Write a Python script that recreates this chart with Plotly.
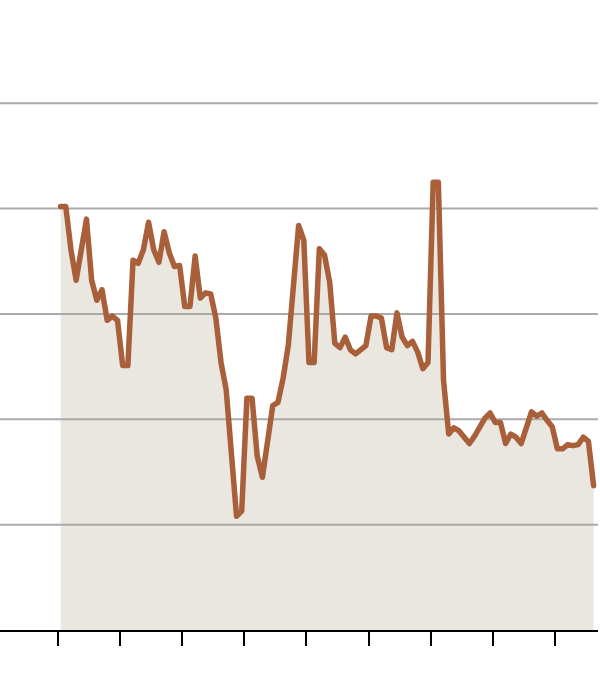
import plotly.graph_objects as go

# Monthly index (mid-month positions) and values
months = [k + 0.5 for k in range(104)]
values = [
    40.2, 40.2, 36.1, 33.2, 36.1, 39.0, 33.2, 31.3, 32.3, 29.4, 29.8, 29.4,
    25.1, 25.1, 35.1, 34.8, 36.1, 38.7, 36.1, 34.9, 37.8, 35.8, 34.5, 34.6,
    30.7, 30.7, 35.5, 31.5, 32.0, 31.9, 29.6, 25.4, 22.8, 16.6, 10.8, 11.3,
    22.0, 22.0, 16.5, 14.5, 18.0, 21.3, 21.6, 23.9, 27.0, 32.3, 38.4, 37.0,
    25.4, 25.4, 36.2, 35.6, 33.0, 27.2, 26.8, 27.8, 26.6, 26.2, 26.6, 27.0,
    29.8, 29.8, 29.6, 26.8, 26.6, 30.1, 27.8, 27.0, 27.4, 26.4, 24.8, 25.4,
    42.5, 42.5, 23.7, 18.6, 19.2, 18.9, 18.3, 17.7, 18.4, 19.2, 20.1, 20.6,
    19.7, 19.7, 17.7, 18.6, 18.3, 17.7, 19.4, 20.7, 20.3, 20.6, 19.9, 19.3,
    17.2, 17.2, 17.6, 17.5, 17.6, 18.3, 17.9, 13.7,
]
year_ticks = [0, 12, 24, 36, 48, 60, 72, 84, 96]
grid_values = [10, 20, 30, 40, 50]

X_RANGE = [-11.21, 104.35]
Y_RANGE = [0, 59.8]

fig = go.Figure()
# area fill (below the gridlines)
fig.add_trace(go.Scatter(
    x=months, y=values, mode="lines",
    line=dict(color="rgba(0,0,0,0)", width=0),
    fill="tozeroy", fillcolor="#EAE7E0",
    hoverinfo="skip",
))
# gridlines drawn above the fill, below the line
for g in grid_values:
    fig.add_trace(go.Scatter(
        x=X_RANGE, y=[g, g], mode="lines",
        line=dict(color="#AAAAAA", width=2),
        hoverinfo="skip",
    ))
# the data line on top
fig.add_trace(go.Scatter(
    x=months, y=values, mode="lines",
    line=dict(color="#A85F3A", width=5.5),
    hoverinfo="skip",
))

fig.update_layout(
    width=600, height=682,
    margin=dict(l=0, r=2, t=0, b=52),
    paper_bgcolor="white", plot_bgcolor="white",
    showlegend=False,
    xaxis=dict(
        range=X_RANGE,
        tickvals=year_ticks, ticktext=["" for _ in year_ticks],
        ticks="outside", ticklen=14, tickwidth=2, tickcolor="black",
        showline=True, linecolor="black", linewidth=2,
        showgrid=False, zeroline=False,
    ),
    yaxis=dict(
        range=Y_RANGE, showticklabels=False,
        showgrid=False, zeroline=False, showline=False, ticks="",
    ),
)

fig.write_html(
    "out.html",
    config={"displayModeBar": False, "staticPlot": True},
    post_script=(
        "document.body.style.margin='0';document.body.style.overflow='hidden';"
        "document.querySelectorAll('.js-line').forEach(function(p){"
        "p.style.strokeLinejoin='round';p.style.strokeLinecap='round';});"
    ),
)
